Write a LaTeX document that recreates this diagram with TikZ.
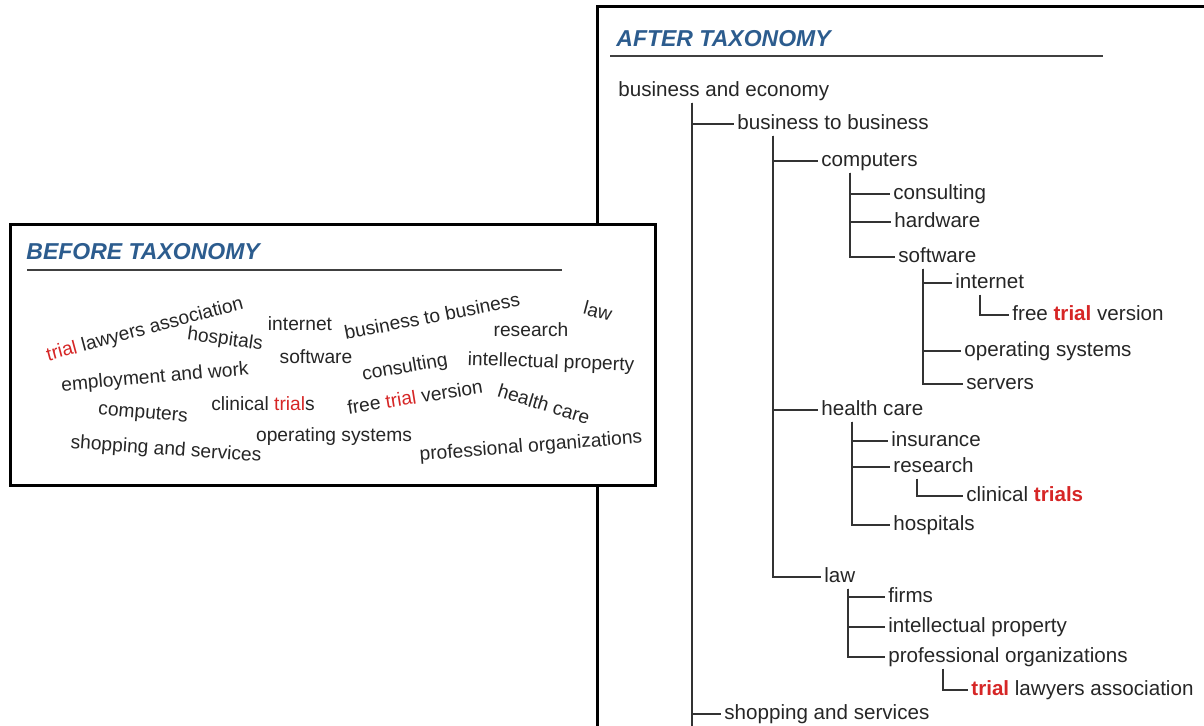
\documentclass[tikz,border=0pt]{standalone}
\usepackage{fontspec}
\setmainfont{Liberation Sans}
\usepackage{xcolor}
\definecolor{trialred}{RGB}{214,38,38}
\definecolor{titleblue}{RGB}{44,92,142}
\usetikzlibrary{calc}
\newcommand{\hitword}[1]{\textcolor{trialred}{#1}}

\begin{document}
\begin{tikzpicture}[x=0.5pt,y=-0.5pt,
                    my box/.style={line width=1.5pt, draw=black},
                    my title/.style={anchor=west, inner sep=1pt, text=titleblue,
                        font=\fontsize{11.5}{13}\selectfont\bfseries\itshape},
                    my rule/.style={line width=1pt, draw=black!75},
                    my word/.style={font=\fontsize{9.6}{11}\selectfont, text=black!85, inner sep=0pt},
                    my leaf/.style={anchor=west, font=\fontsize{10.3}{12}\selectfont, text=black!85,
                        inner xsep=1.5pt, inner ysep=3pt, text height=5.2pt, text depth=0pt},
                    my tree/.style={line width=0.9pt, draw=black!80}]
\useasboundingbox (0,0) rectangle (1204,726);
\coordinate (page bottom) at (0,726); % lower edge of the picture
% the taxonomy frame, open to the right and to the bottom
\draw[my box] (597,726) |- (1204,7);
\node[my title] (after title) at (614,39) {AFTER TAXONOMY};
\draw[my rule] (610,56) -- (1103,56);
% tree of categories
\node[my leaf] (bae) at (615,91) {business and economy};
\node[my leaf] (btb) at (734,124) {business to business};
\node[my leaf] (cmp) at (818,161) {computers};
\node[my leaf] (cns) at (890,194) {consulting};
\node[my leaf] (hw) at (891,222) {hardware};
\node[my leaf] (sw) at (895,257) {software};
\node[my leaf] (inet) at (952,283) {internet};
\node[my leaf] (ftv) at (1009,315) {free \textbf{\hitword{trial}} version};
\node[my leaf] (os) at (961,351) {operating systems};
\node[my leaf] (srv) at (963,384) {servers};
\node[my leaf] (hc) at (818,410) {health care};
\node[my leaf] (ins) at (888,441) {insurance};
\node[my leaf] (res) at (890,467) {research};
\node[my leaf] (clt) at (963,496) {clinical \textbf{\hitword{trials}}};
\node[my leaf] (hosp) at (890,525) {hospitals};
\node[my leaf] (law) at (821,577) {law};
\node[my leaf] (frm) at (885,597) {firms};
\node[my leaf] (ip) at (885,627) {intellectual property};
\node[my leaf] (po) at (885,657) {professional organizations};
\node[my leaf] (tla) at (968,690) {\textbf{\hitword{trial}} lawyers association};
\node[my leaf] (sas) at (721,714) {shopping and services};
% stems hang below each parent
\coordinate (bae stem) at ([xshift=38.5pt]bae.south west);
\coordinate (btb stem) at ([xshift=19.5pt]btb.south west);
\coordinate (cmp stem) at ([xshift=16pt]cmp.south west);
\coordinate (sw stem) at ([xshift=14pt]sw.south west);
\coordinate (inet stem) at ([xshift=14pt]inet.south west);
\coordinate (hc stem) at ([xshift=17pt]hc.south west);
\coordinate (res stem) at ([xshift=13.5pt]res.south west);
\coordinate (law stem) at ([xshift=13.5pt]law.south west);
\coordinate (po stem) at ([xshift=29pt]po.south west);
% elbows from stems to children
\foreach \c in {btb,sas} \draw[my tree] (bae stem) |- (\c.west);
\draw[my tree] (bae stem) -- (bae stem |- page bottom); % runs on past the frame
\foreach \c in {cmp,hc,law} \draw[my tree] (btb stem) |- (\c.west);
\foreach \c in {cns,hw,sw} \draw[my tree] (cmp stem) |- (\c.west);
\foreach \c in {inet,os,srv} \draw[my tree] (sw stem) |- (\c.west);
\draw[my tree] (inet stem) |- (ftv.west);
\foreach \c in {ins,res,hosp} \draw[my tree] (hc stem) |- (\c.west);
\draw[my tree] (res stem) |- (clt.west);
\foreach \c in {frm,ip,po} \draw[my tree] (law stem) |- (\c.west);
\draw[my tree] (po stem) |- (tla.west);
% the loose word cloud, laid over the frame
\draw[my box, fill=white] (10,225) rectangle (655,486);
\node[my title] (before title) at (24,252) {BEFORE TAXONOMY};
\draw[my rule] (27,270) -- (562,270);
\node[my word, rotate=15] (w-tla) at (145,330) {\hitword{trial} lawyers association};
\node[my word, rotate=-8] (w-hosp) at (225,340) {hospitals};
\node[my word] (w-inet) at (300,324) {internet};
\node[my word] (w-sw) at (316,357) {software};
\node[my word, rotate=5] (w-emp) at (155,378) {employment and work};
\node[my word, rotate=-5] (w-cmp) at (143,414) {computers};
\node[my word] (w-clt) at (263,404) {clinical \hitword{trial}s};
\node[my word, rotate=-4] (w-sas) at (166,450) {shopping and services};
\node[my word] (w-os) at (334,437) {operating systems};
\node[my word, rotate=11] (w-btb) at (432,316) {business to business};
\node[my word, rotate=-15] (w-law) at (598,311) {law};
\node[my word] (w-res) at (531,330) {research};
\node[my word, rotate=10] (w-cns) at (405,368) {consulting};
\node[my word, rotate=-2] (w-ip) at (551,363) {intellectual property};
\node[my word, rotate=9] (w-ftv) at (415,397) {free \hitword{trial} version};
\node[my word, rotate=-17] (w-hc) at (544,404) {health care};
\node[my word, rotate=4.5] (w-po) at (531,447) {professional organizations};
\end{tikzpicture}
\end{document}
